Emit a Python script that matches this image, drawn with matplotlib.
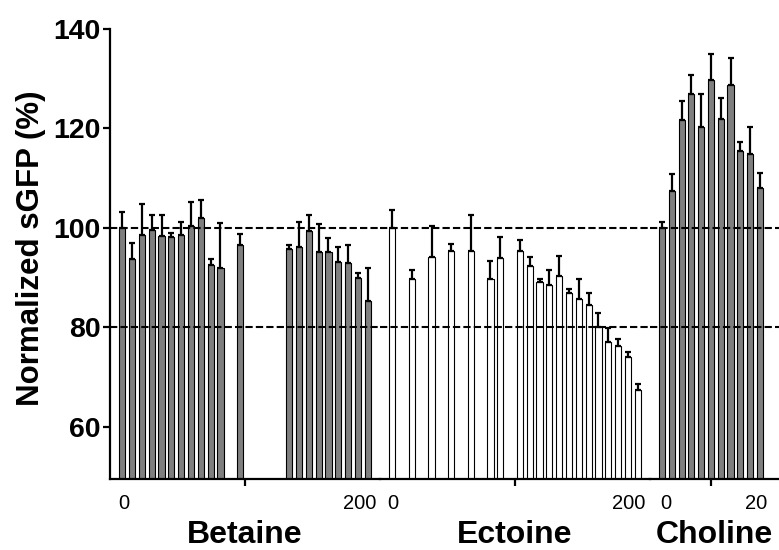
import numpy as np
import matplotlib
matplotlib.use("Agg")
import matplotlib.pyplot as plt
import matplotlib.transforms as mtransforms

plt.rcParams['font.family'] = ['Liberation Sans', 'DejaVu Sans']

# concentrations and normalized sGFP (%), upper error bars
betaine_conc = [0, 8, 16, 24, 32, 40, 48, 56, 64, 72, 80, 96,
                136, 144, 152, 160, 168, 176, 184, 192, 200]
betaine_val = [100.0, 93.8, 98.5, 99.6, 98.3, 98.1, 98.6, 100.3, 102.0, 92.5, 92.0, 96.6,
               95.8, 96.2, 99.4, 95.1, 95.1, 93.2, 92.9, 90.0, 85.3]
betaine_err = [3.2, 3.2, 6.4, 3.0, 4.3, 0.8, 2.5, 5.0, 3.7, 1.3, 8.9, 2.2,
               0.7, 4.9, 3.2, 5.6, 2.8, 2.9, 3.6, 0.9, 6.6]

ectoine_conc = [0, 16, 32, 48, 64, 80, 88, 104, 112, 120, 128, 136,
                144, 152, 160, 168, 176, 184, 192, 200]
ectoine_val = [100.0, 89.8, 94.2, 95.3, 95.3, 89.8, 94.0, 95.4, 92.4, 89.2, 88.6, 90.4,
               86.9, 85.7, 84.5, 80.0, 77.1, 76.2, 74.0, 67.3]
ectoine_err = [3.5, 1.7, 6.1, 1.5, 7.3, 3.5, 4.1, 2.2, 1.8, 0.5, 2.9, 3.9,
               0.8, 4.0, 2.5, 2.9, 2.8, 1.4, 1.0, 1.3]

choline_conc = [0, 2, 4, 6, 8, 10, 12, 14, 16, 18, 20]
choline_val = [100.0, 107.4, 121.6, 127.0, 120.2, 129.8, 121.8, 128.8, 115.5, 114.8, 108.1]
choline_err = [1.1, 3.5, 4.0, 3.8, 6.7, 5.1, 4.4, 5.4, 1.8, 5.4, 3.0]

W, H = 779, 550
fig = plt.figure(figsize=(W / 100, H / 100), dpi=100)

bot, top = 479, 29
bounds = [(110, 380), (380, 650), (650, 779)]
axes = []
for x0, x1 in bounds:
    ax = fig.add_axes([x0 / W, 1 - bot / H, (x1 - x0) / W, (bot - top) / H])
    axes.append(ax)

segments = [
    (betaine_conc, betaine_val, betaine_err, '#7f7f7f', 5.0, (-10, 210), 'Betaine', [0, 200], 100, [2, -8]),
    (ectoine_conc, ectoine_val, ectoine_err, 'white', 5.0, (-10, 210), 'Ectoine', [0, 200], 100, [1, -9]),
    (choline_conc, choline_val, choline_err, '#7f7f7f', 1.25, (-2.45, 23.9), 'Choline', [0, 20], 10, [4, -4]),
]

for i, (ax, seg) in enumerate(zip(axes, segments)):
    conc, val, err, col, bw, xl, name, lab_ticks, mid, shifts = seg
    ax.bar(conc, val, width=bw, color=col, edgecolor='black', linewidth=0.8, zorder=2)
    ax.errorbar(conc, val, yerr=[np.zeros(len(err)), err], fmt='none', ecolor='black',
                elinewidth=1.6, capsize=2.5, capthick=1.6, zorder=3)
    for yv in (100, 80):
        ax.axhline(yv, color='black', lw=1.5, ls=(0, (3.5, 1.5)), zorder=4)
    ax.set_xlim(*xl)
    ax.set_ylim(49.5, 140)
    for s in ('top', 'right'):
        ax.spines[s].set_visible(False)
    ax.spines['bottom'].set_linewidth(1.6)
    ax.set_xticks([mid])
    ax.set_xticklabels([''])
    ax.set_xticks(lab_ticks, minor=True)
    ax.set_xticklabels([str(t) for t in lab_ticks], minor=True, fontsize=14.5)
    ax.tick_params(axis='x', which='major', length=5, width=1.6, direction='out')
    ax.tick_params(axis='x', which='minor', length=0, pad=11)
    # nudge the end labels the way the original figure has them
    for lbl, dx in zip(ax.get_xticklabels(minor=True), shifts):
        lbl.set_transform(lbl.get_transform() +
                          mtransforms.ScaledTranslation(dx / 100, 0, fig.dpi_scale_trans))
    ax.set_xlabel(name, fontsize=23, fontweight='bold', labelpad=5)
    if i == 0:
        ax.spines['left'].set_linewidth(1.6)
        ax.set_yticks([60, 80, 100, 120, 140])
        ax.tick_params(axis='y', length=5, width=1.6, pad=2, labelsize=20.5)
        for t in ax.get_yticklabels():
            t.set_fontweight('bold')
        ax.set_ylabel('Normalized sGFP (%)', fontsize=22.5, fontweight='bold')
        ax.yaxis.set_label_coords(-0.237, 0.513)
    else:
        ax.spines['left'].set_visible(False)
        ax.set_yticks([])
    ax.patch.set_alpha(0)

fig.savefig('out.png', dpi=100)
